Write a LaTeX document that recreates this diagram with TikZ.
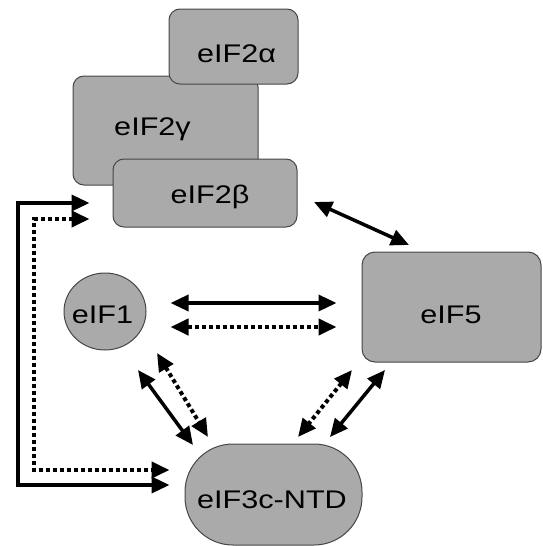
\documentclass[tikz,border=0pt]{standalone}
\usepackage{fontspec}
\setmainfont{Liberation Sans}
\usetikzlibrary{arrows.meta,calc,shapes.geometric}
\definecolor{boxfill}{RGB}{170,170,170}
\definecolor{boxline}{RGB}{70,70,70}
\newcommand{\wtxt}[1]{\scalebox{1.2}[1]{#1}}
\tikzset{
  prot/.style={draw=boxline, line width=1pt, fill=boxfill, inner sep=0pt},
  rbox/.style={prot, rectangle, rounded corners=11pt},
  lbl/.style={anchor=base, inner sep=0pt, font=\fontsize{25.5}{30}\selectfont},
  solidarr/.style={line width=3.5pt, {Triangle[length=18pt,width=16pt]}-{Triangle[length=18pt,width=16pt]}},
  dotarr/.style={line width=4pt, dash pattern=on 4pt off 3pt, {Triangle[length=18pt,width=16pt]}-{Triangle[length=18pt,width=16pt]}},
}
\begin{document}
\begin{tikzpicture}[x=1pt,y=-1pt]
\useasboundingbox (0,0) rectangle (542,546);
% protein shapes
\node[rbox, minimum width=185pt, minimum height=109pt] (g) at (165.5,130.5) {};
\node[rbox, minimum width=129pt, minimum height=75pt] (a) at (233.5,46.5) {};
\node[rbox, minimum width=184pt, minimum height=68pt] (b) at (205,193) {};
\node[rbox, minimum width=179pt, minimum height=110pt, rounded corners=13pt] (e5) at (451.5,307) {};
\node[prot, ellipse, minimum width=82pt, minimum height=77pt] (e1) at (105,311.5) {};
\node[rbox, minimum width=177pt, minimum height=101pt, rounded corners=48pt] (e3) at (273.5,494.5) {};
% labels
\node[lbl] (ta) at (236.5,62) {\wtxt{eIF2α}};
\node[lbl] (tg) at (152.5,135) {\wtxt{eIF2γ}};
\node[lbl] (tb) at (210,203) {\wtxt{eIF2β}};
\node[lbl] (t5) at (451,323) {\wtxt{eIF5}};
\node[lbl] (t1) at (102.5,323) {\wtxt{eIF1}};
\node[lbl] (t3) at (272,508) {\wtxt{eIF3c-NTD}};
% helper coordinates
\coordinate (lxs) at (18,0);
\coordinate (lxd) at (34,0);
\coordinate (bs) at ($(b.west)+(-23,10)$);
\coordinate (bd) at ($(b.west)+(-23,26)$);
\coordinate (cs) at ($(e3.west)+(-15,-9.5)$);
\coordinate (cd) at ($(e3.west)+(-15,-24.5)$);
% L-shaped connectors
\draw[solidarr] (bs) -- (bs -| lxs) |- (cs);
\draw[dotarr] (bd) -- (bd -| lxd) |- (cd);
% eIF1 <-> eIF5
\draw[solidarr] ($(e1.east)+(24,-8.5)$) -- ($(e5.west)+(-25,-4)$);
\draw[dotarr] ($(e1.east)+(24,15.5)$) -- ($(e5.west)+(-25,20)$);
% eIF1 <-> eIF3c
\draw[solidarr] ($(e1.center)+(33,58.5)$) -- ($(e3.center)+(-80.5,-49.5)$);
\draw[dotarr] ($(e1.center)+(52,41.5)$) -- ($(e3.center)+(-65.5,-57.5)$);
% eIF5 <-> eIF3c
\draw[dotarr] ($(e5.center)+(-99.5,63)$) -- ($(e3.center)+(24.5,-57.5)$);
\draw[solidarr] ($(e5.center)+(-66.5,63)$) -- ($(e3.center)+(56.5,-57.5)$);
% eIF2beta <-> eIF5
\draw[solidarr] ($(b.center)+(109,9)$) -- ($(e5.center)+(-42.5,-62)$);
\end{tikzpicture}
\end{document}
